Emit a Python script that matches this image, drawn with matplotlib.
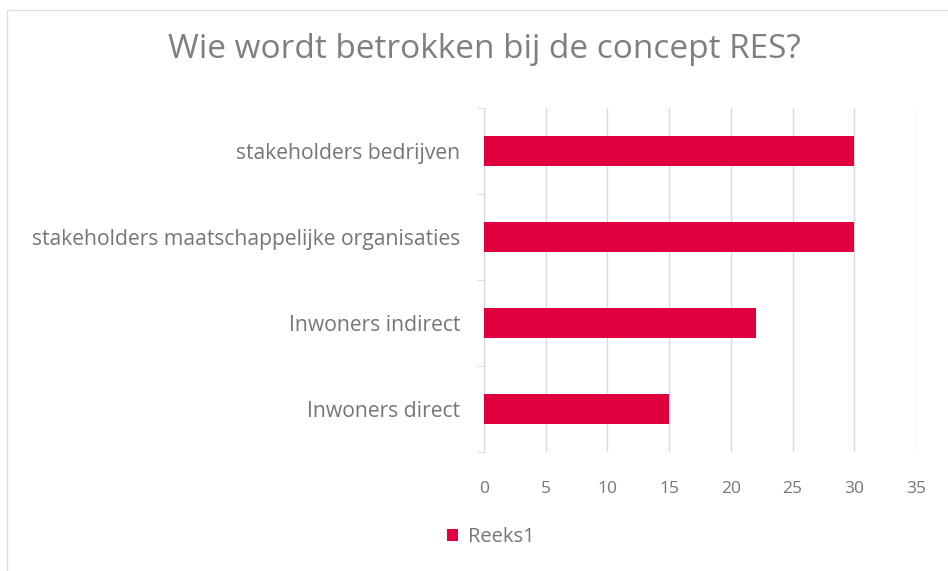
import matplotlib.pyplot as plt
import numpy as np
from matplotlib.patches import Rectangle, Patch

# Data
categories = ['Inwoners direct', 'Inwoners indirect',
              'stakeholders maatschappelijke organisaties', 'stakeholders bedrijven']
values = [15, 22, 30, 30]
series_name = 'Reeks1'
x_ticks = [0, 5, 10, 15, 20, 25, 30, 35]

bar_color = '#E1003F'
text_gray = '#767676'
grid_gray = '#d9d9d9'

plt.rcParams['font.family'] = ['Open Sans', 'DejaVu Sans']

fig = plt.figure(figsize=(9.48, 5.71), dpi=100)
ax = fig.add_axes([484 / 948, 1 - 452 / 571, (916 - 484) / 948, (452 - 108) / 571])

y = np.arange(len(categories))
ax.barh(y, values, height=0.35, color=bar_color, zorder=3)

ax.set_xlim(0, 35)
ax.set_ylim(-0.5, len(categories) - 0.5)
ax.set_xticks(x_ticks)
ax.set_xticklabels([str(t) for t in x_ticks])
ax.set_yticks(y)
ax.set_yticklabels(categories)
ax.set_yticks(np.arange(-0.5, len(categories), 1), minor=True)

ax.grid(axis='x', color=grid_gray, linewidth=1, zorder=0)
for s in ['top', 'right', 'bottom']:
    ax.spines[s].set_visible(False)
ax.spines['left'].set_color(grid_gray)

ax.tick_params(axis='x', length=0, pad=21, labelsize=12.5, labelcolor=text_gray)
ax.tick_params(axis='y', which='major', length=0, pad=17, labelsize=15.2, labelcolor=text_gray)
ax.tick_params(axis='y', which='minor', length=5, color=grid_gray)

fig.text(484 / 948, 1 - 50 / 571, 'Wie wordt betrokken bij de concept RES?',
         ha='center', va='center', fontsize=24, color='#7f7f7f')

# Legend
handle = Patch(facecolor=bar_color, label=series_name)
fig.legend(handles=[handle], loc='center', bbox_to_anchor=(491 / 948, 1 - 537 / 571),
           frameon=False, fontsize=14.5, labelcolor=text_gray,
           handlelength=0.55, handleheight=0.55, handletextpad=0.5)

# Chart border
fig.patches.append(Rectangle((7 / 948, -0.1), 1.2, 1 - 10 / 571 + 0.1,
                             transform=fig.transFigure, fill=False,
                             edgecolor='#e0e0e0', linewidth=1))

plt.savefig('out.png', dpi=100)
plt.close()
